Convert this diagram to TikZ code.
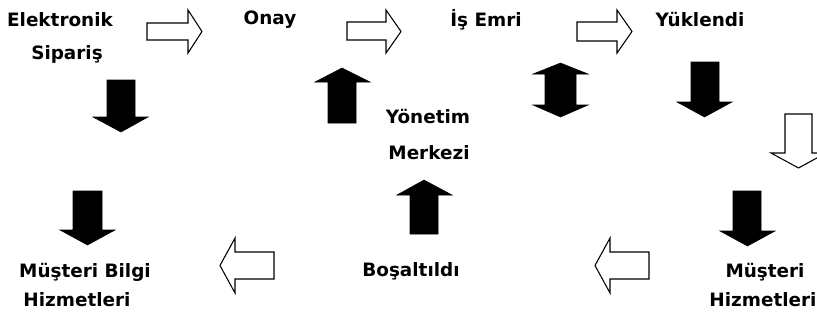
\documentclass[tikz,border=0pt]{standalone}
\usepackage{fontspec}
\setmainfont{DejaVu Sans}
\begin{document}
\begin{tikzpicture}[x=0.75pt,y=-0.75pt,
  lbl/.style={font=\fontsize{13.8}{16}\selectfont\bfseries, inner sep=0pt, anchor=center},
  hollow/.style={draw=black, line width=0.8pt, fill=white, line join=miter},
  solid/.style={fill=black, draw=black, line width=0.4pt}]
\useasboundingbox (0,0) rectangle (817,322);
\clip (0,0) rectangle (817,322);
% labels
\node[lbl] (elek) at (60,20) {Elektronik};
\node[lbl] (sip) at (67,54) {Sipariş};
\node[lbl] (onay) at (270,20) {Onay};
\node[lbl] (is) at (486,20) {İş Emri};
\node[lbl] (yuk) at (700,20) {Yüklendi};
\node[lbl] (yon) at (428,117) {Yönetim};
\node[lbl] (mer) at (429,153) {Merkezi};
\node[lbl] (bos) at (411,271) {Boşaltıldı};
\node[lbl] (mbh) at (85,272) {Müşteri Bilgi};
\node[lbl] (hiz1) at (77,300) {Hizmetleri};
\node[lbl] (mus) at (765,272) {Müşteri};
\node[lbl] (hiz2) at (763,300) {Hizmetleri};
% hollow right arrows
\draw[hollow] (147,23)--(188,23)--(188,10)--(202,31.5)--(188,53)--(188,40)--(147,40)--cycle;
\draw[hollow] (347,22)--(386,22)--(386,10)--(401,31.5)--(386,53)--(386,40)--(347,40)--cycle;
\draw[hollow] (577,22)--(617,22)--(617,10)--(632,31.5)--(617,53)--(617,41)--(577,41)--cycle;
% hollow left arrows
\draw[hollow] (274,252)--(235,252)--(235,238)--(220,265.5)--(235,293)--(235,279)--(274,279)--cycle;
\draw[hollow] (649,252)--(610,252)--(610,238)--(595,265.5)--(610,293)--(610,279)--(649,279)--cycle;
% hollow down arrow
\draw[hollow] (785,114)--(812,114)--(812,153)--(826,153)--(798.5,168)--(771,153)--(785,153)--cycle;
% black down arrows
\filldraw[solid] (107,80)--(135,80)--(135,117)--(148,117)--(121,132)--(93,117)--(107,117)--cycle;
\filldraw[solid] (691,62)--(719,62)--(719,102)--(732,102)--(704.5,117)--(677,102)--(691,102)--cycle;
\filldraw[solid] (73,191)--(102,191)--(102,230)--(115,230)--(87.5,245)--(60,230)--(73,230)--cycle;
\filldraw[solid] (733,191)--(761,191)--(761,231)--(775,231)--(747.5,246)--(720,231)--(733,231)--cycle;
% black up arrows
\filldraw[solid] (328,123)--(356,123)--(356,82)--(370,82)--(342,68)--(315,82)--(328,82)--cycle;
\filldraw[solid] (410,234)--(438,234)--(438,195)--(452,195)--(424,180)--(397,195)--(410,195)--cycle;
% black double arrow
\filldraw[solid] (545,74)--(533,74)--(560.5,63)--(588,74)--(576,74)--(576,105)--(588,105)--(560.5,117)--(533,105)--(545,105)--cycle;
\end{tikzpicture}
\end{document}
